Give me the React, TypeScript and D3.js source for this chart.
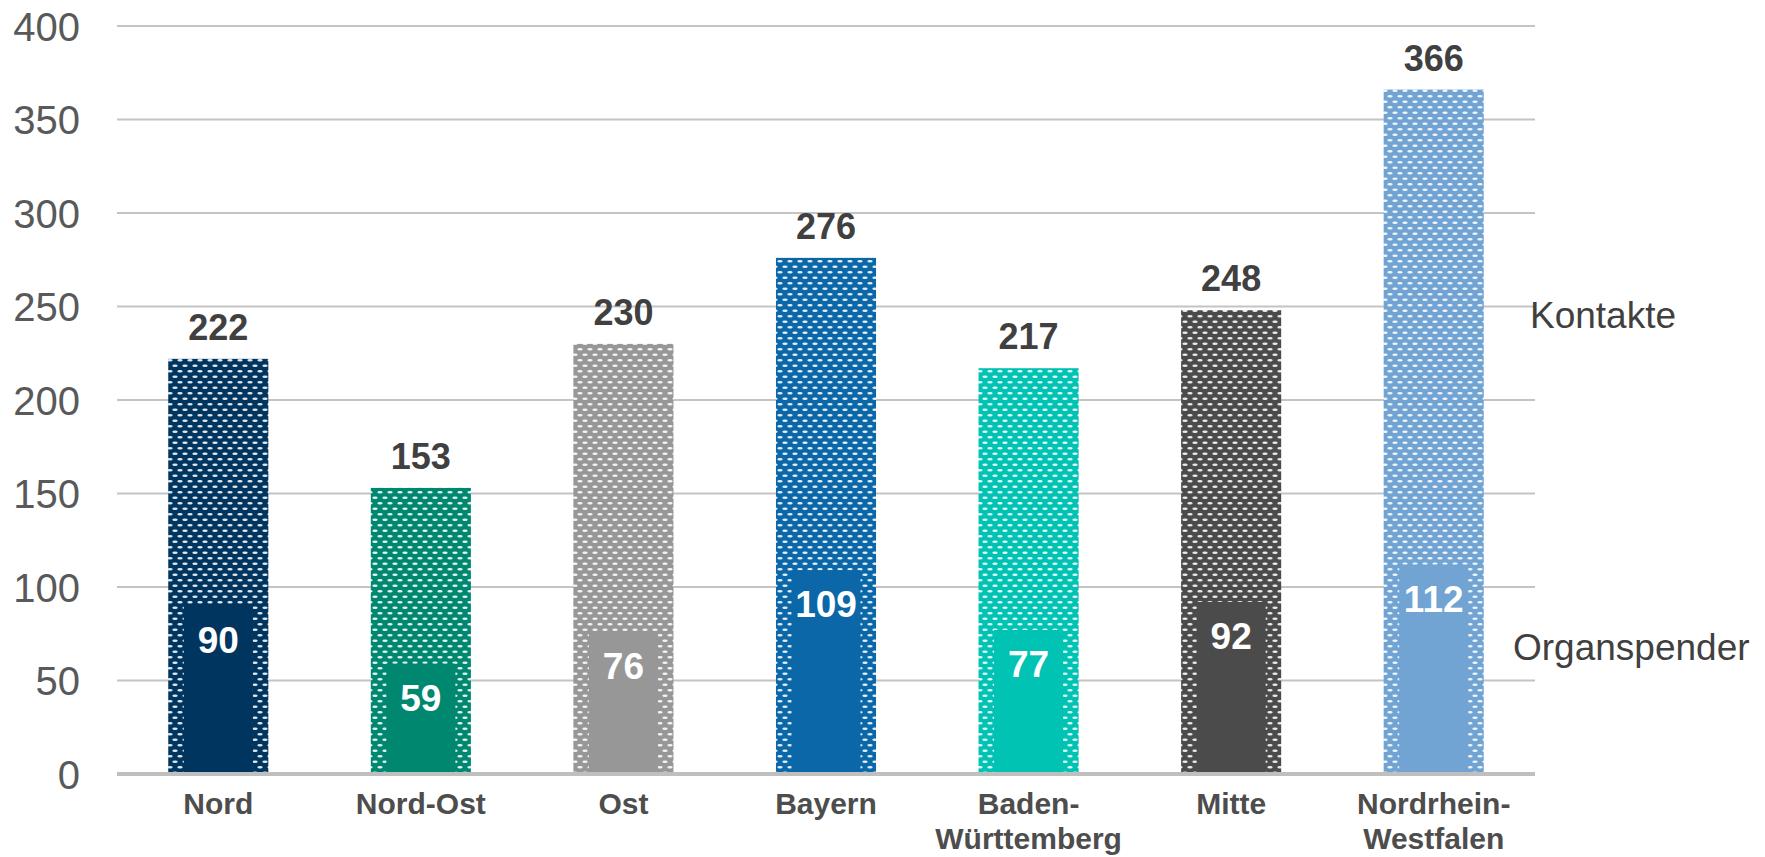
import * as d3 from 'd3'

const regions = ['Nord', 'Nord-Ost', 'Ost', 'Bayern', 'Baden-Württemberg', 'Mitte', 'Nordrhein-Westfalen']
const regionLines = [['Nord'], ['Nord-Ost'], ['Ost'], ['Bayern'], ['Baden-', 'Württemberg'], ['Mitte'], ['Nordrhein-', 'Westfalen']]
const kontakte = [222, 153, 230, 276, 217, 248, 366]
const organspender = [90, 59, 76, 109, 77, 92, 112]
const regionColors = ['#00355f', '#00876f', '#979797', '#0b67a8', '#00c3b3', '#4b4b4b', '#71a3d3']
const yTicks = [0, 50, 100, 150, 200, 250, 300, 350, 400]
const seriesNames = ['Kontakte', 'Organspender']

const font = '"Liberation Sans", Arial, sans-serif'

export default function App() {
  const width = 1765
  const height = 857
  const marginLeft = 117
  const marginRight = 230
  const marginTop = 26
  const marginBottom = 83

  const x = d3.scaleBand<string>()
    .domain(regions)
    .range([marginLeft, width - marginRight])
    .paddingInner(0.506)
    .paddingOuter(0.253)
  const y = d3.scaleLinear([0, 400], [height - marginBottom, marginTop])
  const innerW = x.bandwidth() * 0.69

  return (
    <div style={{position: 'absolute', left: 0, top: 0}}>
      <svg width={width} height={height} style={{display: 'block', background: '#fff'}} fontFamily={font}>
        <defs>
          {regionColors.map((c, i) => (
            <pattern key={i} id={`pat${i}`} patternUnits="userSpaceOnUse" width={10} height={11}>
              <rect width={10} height={11} fill={c}/>
              <ellipse cx={5} cy={2.75} rx={2.7} ry={1.35} fill="#fff" opacity={0.88}/>
              <ellipse cx={0} cy={8.25} rx={2.7} ry={1.35} fill="#fff" opacity={0.88}/>
              <ellipse cx={10} cy={8.25} rx={2.7} ry={1.35} fill="#fff" opacity={0.88}/>
            </pattern>
          ))}
        </defs>

        {/* gridlines */}
        {yTicks.filter(t => t > 0).map(t => (
          <line key={t} x1={marginLeft} x2={width - marginRight} y1={y(t)} y2={y(t)} stroke="#c4c4c4" strokeWidth={2}/>
        ))}
        {yTicks.map(t => (
          <text key={t} x={80} y={y(t) + 14.5} textAnchor="end" fontSize={40} fill="#595959">{t}</text>
        ))}

        {/* Kontakte bars */}
        {regions.map((r, i) => (
          <g key={r}>
            <rect x={x(r)} y={y(kontakte[i])} width={x.bandwidth()} height={y(0) - y(kontakte[i])} fill={`url(#pat${i})`}/>
            <text x={x(r)! + x.bandwidth() / 2} y={y(kontakte[i]) - 19} textAnchor="middle" fontSize={36} fontWeight="bold" fill="#404040">{kontakte[i]}</text>
          </g>
        ))}

        {/* Organspender bars */}
        {regions.map((r, i) => (
          <g key={r}>
            <rect x={x(r)! + (x.bandwidth() - innerW) / 2} y={y(organspender[i])} width={innerW} height={y(0) - y(organspender[i])} fill={regionColors[i]}/>
            <text x={x(r)! + x.bandwidth() / 2} y={y(organspender[i]) + 47} textAnchor="middle" fontSize={37} fontWeight="bold" fill="#fff">{organspender[i]}</text>
          </g>
        ))}

        {/* x axis */}
        <line x1={marginLeft} x2={width - marginRight} y1={y(0)} y2={y(0)} stroke="#bfbfbf" strokeWidth={4}/>
        {regions.map((r, i) => (
          <text key={r} x={x(r)! + x.bandwidth() / 2} y={814} textAnchor="middle" fontSize={30} fontWeight="bold" fill="#4d4d4d">
            {regionLines[i].map((l, j) => (
              <tspan key={j} x={x(r)! + x.bandwidth() / 2} dy={j === 0 ? 0 : 35}>{l}</tspan>
            ))}
          </text>
        ))}

        {/* series labels */}
        <text x={1530} y={328} fontSize={37} fill="#404040">{seriesNames[0]}</text>
        <text x={1513} y={660} fontSize={37} fill="#404040">{seriesNames[1]}</text>
      </svg>
    </div>
  )
}
